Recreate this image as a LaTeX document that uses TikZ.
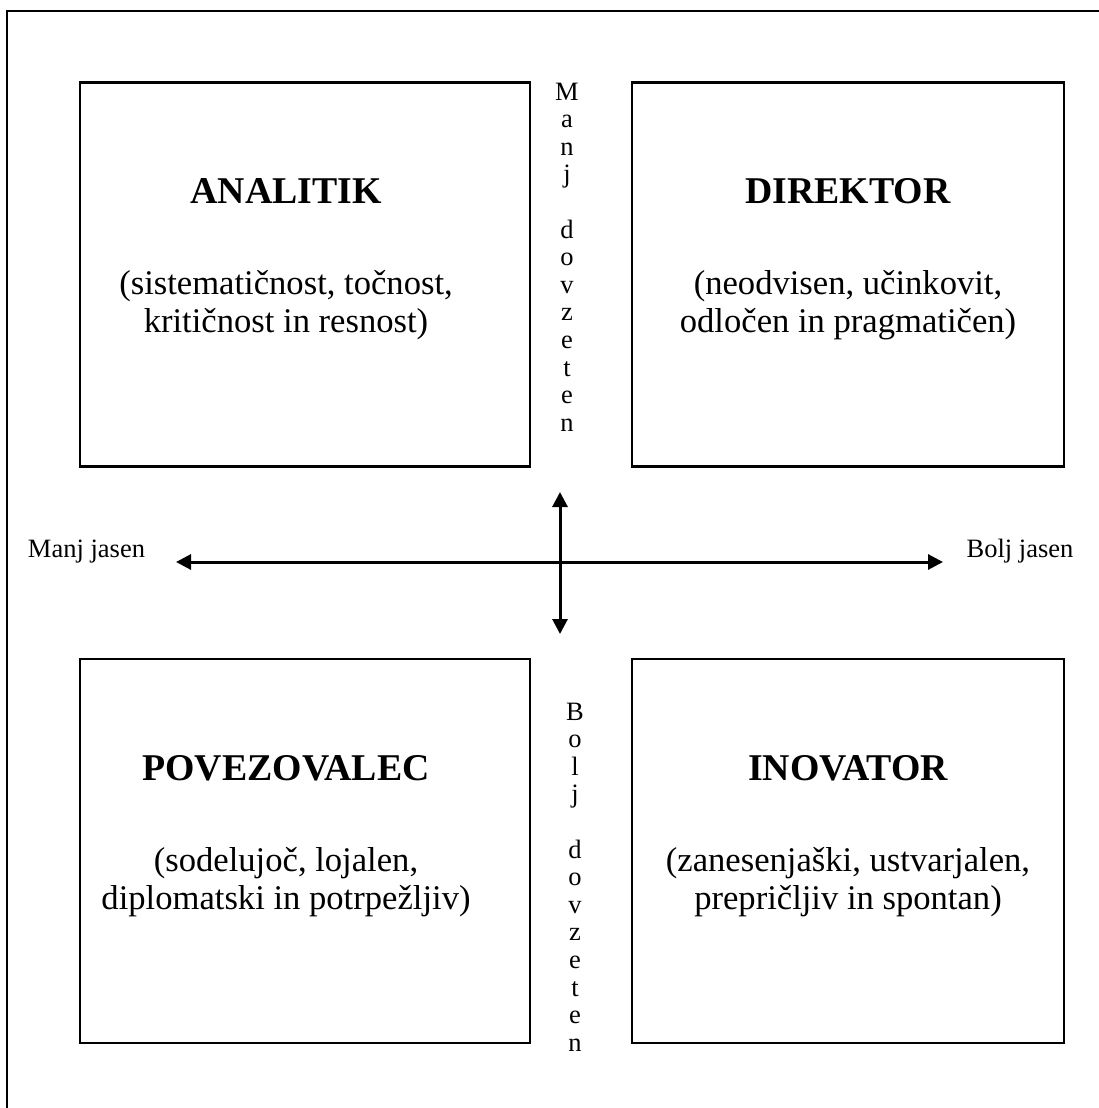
\documentclass[tikz,border=0pt]{standalone}
\usepackage{fontspec}
\setmainfont{Liberation Serif}
\usetikzlibrary{arrows.meta}
\begin{document}
\begin{tikzpicture}[x=1pt, y=1pt, line width=2.6pt,
        main/.style = {draw, rectangle, inner sep=0pt, minimum height=384pt},
        title/.style = {font=\fontsize{37.8}{40}\selectfont\bfseries, anchor=base},
        desc/.style = {font=\fontsize{34.6}{38}\selectfont, align=center},
        side/.style = {font=\fontsize{26.5}{28}\selectfont, anchor=base},
        updown/.style = {font=\fontsize{26.5}{27.6}\selectfont, align=center, inner sep=0pt},
        arr/.style = {line width=3pt, {Triangle[length=15pt,width=15pt]}-{Triangle[length=15pt,width=15pt]}}]
        \clip (0,0) rectangle (1099,-1108);
        \draw (7,-11) rectangle (1120,-1130);
        \node[main, minimum width=450pt] (1) at (305,-274.5) {};
        \node[main, minimum width=432pt] (2) at (848,-274.5) {};
        \node[main, minimum width=450pt] (3) at (305,-851) {};
        \node[main, minimum width=432pt] (4) at (848,-851) {};
        \node[title] (t1) at (286,-203.5) {ANALITIK};
        \node[title] (t2) at (848,-203.5) {DIREKTOR};
        \node[title] (t3) at (286,-780.5) {POVEZOVALEC};
        \node[title] (t4) at (848,-780.5) {INOVATOR};
        \node[desc] (d1) at (286,-305) {(sistematičnost, točnost,\\kritičnost in resnost)};
        \node[desc] (d2) at (848,-305) {(neodvisen, učinkovit,\\odločen in pragmatičen)};
        \node[desc] (d3) at (286,-882) {(sodelujoč, lojalen,\\diplomatski in potrpežljiv)};
        \node[desc] (d4) at (848,-882) {(zanesenjaški, ustvarjalen,\\prepričljiv in spontan)};
        \node[side] (l) at (86.5,-557) {Manj jasen};
        \node[side] (r) at (1020,-557) {Bolj jasen};
        \node[updown] (u) at (567,-257) {M\\a\\n\\j\\ \mbox{}\\d\\o\\v\\z\\e\\t\\e\\n};
        \node[updown] (b) at (575,-877) {B\\o\\l\\j\\ \mbox{}\\d\\o\\v\\z\\e\\t\\e\\n};
        \coordinate (w) at (176,-562);
        \coordinate (e) at (943,-562);
        \coordinate (n) at (560,-492);
        \coordinate (s) at (560,-634);
        \draw[arr] (w) -- (e);
        \draw[arr] (n) -- (s);
    \end{tikzpicture}
\end{document}
